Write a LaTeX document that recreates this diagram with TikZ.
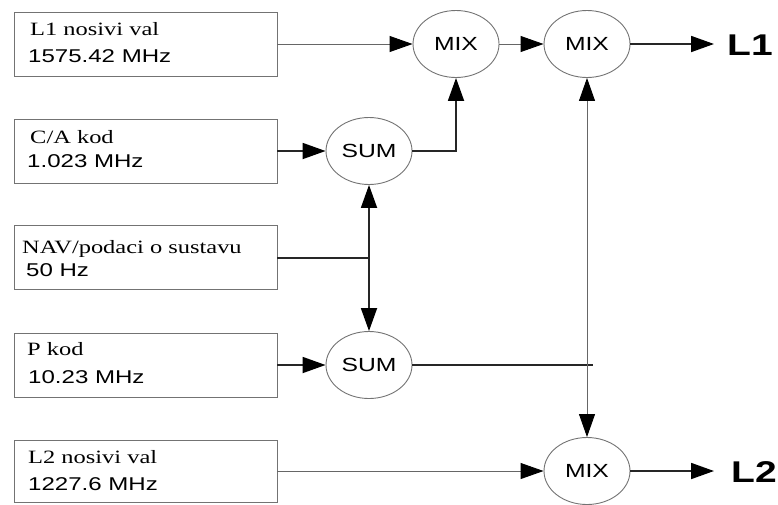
\documentclass[tikz,border=0pt]{standalone}
\usepackage{fontspec}
\setmainfont{Liberation Serif}
\setsansfont{Liberation Sans}
\usetikzlibrary{arrows.meta,shapes.geometric}
\newcommand\wide[1]{\scalebox{1.3}[1]{#1}}
\begin{document}
\begin{tikzpicture}[x=1pt,y=-1pt,
  box/.style={draw=black!55,line width=0.9pt,minimum width=263pt,minimum height=64pt,inner sep=0pt},
  oval/.style={ellipse,draw=black!55,line width=0.9pt,minimum width=86pt,minimum height=67pt,inner sep=0pt,
     font=\fontsize{19}{21}\selectfont\sffamily},
  txt/.style={anchor=base west,inner sep=0pt,font=\fontsize{18.8}{20}\selectfont},
  stxt/.style={anchor=base west,inner sep=0pt,font=\fontsize{18.5}{20}\selectfont\sffamily},
  big/.style={anchor=base west,inner sep=0pt,font=\fontsize{30}{32}\selectfont\sffamily\bfseries},
  tip/.style={-{Triangle[length=23pt,width=16pt,color=black]}},
  thin/.style={draw=black!60,line width=0.9pt},
  thick/.style={draw=black!85,line width=1.8pt}]
\useasboundingbox (0,0) rectangle (778,504);
% boxes
\node[box] (b1) at (145.5,44) {};
\node[box] (b2) at (145.5,151) {};
\node[box] (b3) at (145.5,257.5) {};
\node[box] (b4) at (145.5,365) {};
\node[box,minimum height=62pt] (b5) at (145.5,471) {};
\node[txt]  (t1a) at (30,35)  {\wide{L1 nosivi val}};
\node[stxt] (t1b) at (28,62)  {\wide{1575.42 MHz}};
\node[txt]  (t2a) at (30,143) {\wide{C/A kod}};
\node[stxt] (t2b) at (27,167) {\wide{1.023 MHz}};
\node[txt]  (t3a) at (22,253) {\wide{NAV/podaci o sustavu}};
\node[stxt] (t3b) at (26,276) {\wide{50 Hz}};
\node[txt]  (t4a) at (27,355) {\wide{P kod}};
\node[stxt] (t4b) at (28,383) {\wide{10.23 MHz}};
\node[txt]  (t5a) at (28,463) {\wide{L2 nosivi val}};
\node[stxt] (t5b) at (28,490) {\wide{1227.6 MHz}};
% ovals
\node[oval] (m1) at (456,44) {\wide{MIX}};
\node[oval] (m2) at (587,44) {\wide{MIX}};
\node[oval] (s1) at (369,151) {\wide{SUM}};
\node[oval] (s2) at (369,365) {\wide{SUM}};
\node[oval] (m3) at (587,471) {\wide{MIX}};
% outputs
\coordinate (e1) at (714,44);
\coordinate (e2) at (714,471);
\node[big] (L1) at (727,55) {\wide{L1}};
\node[big] (L2) at (731,482) {\wide{L2}};
% junctions
\coordinate (j1) at (369,258);
\coordinate (j2) at (587,365);
\coordinate (j2e) at (593,365);
% connectors
\draw[thin,tip] (b1.east) -- (m1.west);
\draw[thin,tip] (m1.east) -- (m2.west);
\draw[thick,tip] (m2.east) -- (e1);
\draw[thick,tip] (b2.east) -- (s1.west);
\draw[thick,tip] (s1.east) -| (m1.south);
\draw[thick] (b3.east |- j1) -- (j1);
\draw[thick,tip] (j1) -- (s1.south);
\draw[thick,tip] (j1) -- (s2.north);
\draw[thick,tip] (b4.east) -- (s2.west);
\draw[thick] (s2.east) -- (j2e);
\draw[thin,tip] (j2) -- (m2.south);
\draw[thin,tip] (j2) -- (m3.north);
\draw[thin,tip] (b5.east) -- (m3.west);
\draw[thick,tip] (m3.east) -- (e2);
\end{tikzpicture}
\end{document}
